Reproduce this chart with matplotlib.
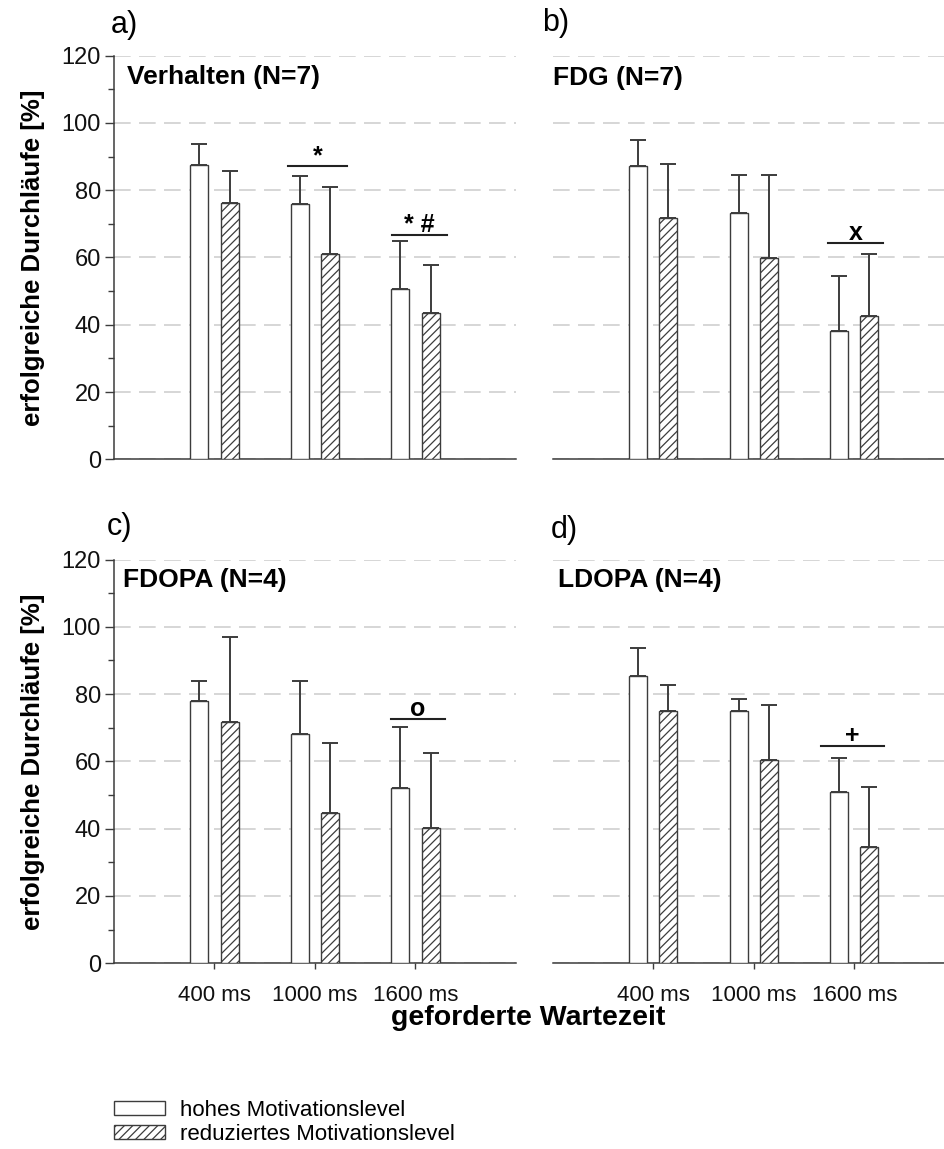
import matplotlib
matplotlib.use("Agg")
import matplotlib.pyplot as plt
import numpy as np

plt.rcParams['font.family'] = ['Liberation Sans', 'DejaVu Sans']
plt.rcParams['hatch.linewidth'] = 0.9
plt.rcParams['hatch.color'] = '#3a3a3a'

# ---------------- data ----------------
categories = ["400 ms", "1000 ms", "1600 ms"]
panel_letters = ["a)", "b)", "c)", "d)"]
panel_titles = ["Verhalten (N=7)", "FDG (N=7)", "FDOPA (N=4)", "LDOPA (N=4)"]

high_mean = [
    [87.6, 76.0, 50.7],
    [87.1, 73.3, 38.1],
    [77.9, 68.1, 52.0],
    [85.5, 75.1, 50.9],
]
high_err = [
    [6.1, 8.1, 14.1],
    [7.9, 11.3, 16.4],
    [6.0, 15.7, 18.3],
    [8.3, 3.5, 10.1],
]
low_mean = [
    [76.3, 61.0, 43.6],
    [71.8, 59.8, 42.5],
    [71.7, 44.6, 40.1],
    [74.9, 60.3, 34.4],
]
low_err = [
    [9.5, 20.0, 14.1],
    [16.0, 24.7, 18.6],
    [25.3, 21.0, 22.5],
    [7.9, 16.5, 17.9],
]
# significance markers: (label, line level, x start, x end)
sig_labels = [["*", "* #"], ["x"], ["o"], ["+"]]
sig_levels = [[87.1, 66.8], [64.3], [72.7], [64.6]]
sig_x0 = [[1.73, 2.77], [2.74], [2.76], [2.67]]
sig_x1 = [[2.32, 3.31], [3.29], [3.29], [3.30]]

legend_labels = ["hohes Motivationslevel", "reduziertes Motivationslevel"]
y_label = "erfolgreiche Durchläufe [%]"
x_label = "geforderte Wartezeit"

# ---------------- figure ----------------
W, H = 945, 1149
fig = plt.figure(figsize=(W / 100, H / 100), dpi=100)

def fx(px):
    return px / W

def fy(py):
    return 1 - py / H

ax_left = [114, 552.7]
ax_right = [516, 945]
ax_top = [55.7, 559.5]
ax_bot = [459.3, 963.2]
group_px = 100.5
title_px = [(127, 77), (553, 78), (123, 580), (558, 580)]
letter_px = [(111, 33), (541.7, 31), (107, 535), (550.7, 538)]

spine_col = '#3c3c3c'
edge_col = '#3c3c3c'
grid_col = '#cfcfcf'

axes = []
for i in range(4):
    r, c = divmod(i, 2)
    l, rt = ax_left[c], ax_right[c]
    t, b = ax_top[r], ax_bot[r]
    ax = fig.add_axes([fx(l), fy(b), (rt - l) / W, (b - t) / H])
    axes.append(ax)
    x = np.arange(1, len(categories) + 1)
    bw = 0.18
    off = 0.15
    ekw = dict(ecolor=edge_col, elinewidth=1.4, capsize=5.5, capthick=1.4, zorder=4)
    b1 = ax.bar(x - off, high_mean[i], bw, facecolor='white', edgecolor=edge_col,
                linewidth=1.0, zorder=3,
                yerr=[np.zeros(3), high_err[i]], error_kw=ekw)
    b2 = ax.bar(x + off, low_mean[i], bw, facecolor='white', edgecolor=edge_col,
                linewidth=1.0, hatch='////', zorder=3,
                yerr=[np.zeros(3), low_err[i]], error_kw=ekw)
    if i == 0:
        legend_handles = [b1, b2]
    ax.set_xlim(0, (rt - l) / group_px)
    ax.set_ylim(0, 120)
    ax.set_yticks(np.arange(0, 121, 20))
    ax.set_yticks(np.arange(10, 120, 20), minor=True)
    ax.yaxis.grid(True, which='major', color=grid_col, linestyle=(0, (10, 5)), linewidth=1.2, zorder=0)
    ax.set_axisbelow(True)
    for s in ['top', 'right']:
        ax.spines[s].set_visible(False)
    ax.spines['bottom'].set_color(spine_col)
    ax.spines['bottom'].set_linewidth(1.1)
    ax.spines['left'].set_color(spine_col)
    ax.spines['left'].set_linewidth(1.1)
    if c == 0:
        ax.tick_params(axis='y', which='major', length=6.5, width=1.0, color=spine_col,
                       labelsize=17, pad=3, labelcolor='#111111')
        ax.tick_params(axis='y', which='minor', length=4.5, width=1.0, color=spine_col)
        ax.set_ylabel(y_label, fontsize=18.5, fontweight='bold', labelpad=12)
    else:
        ax.spines['left'].set_visible(False)
        ax.tick_params(axis='y', which='both', left=False, labelleft=False)
    ax.set_xticks(x)
    if r == 1:
        ax.set_xticklabels(categories, fontsize=16, color='#111111')
        ax.tick_params(axis='x', length=4.5, width=1.0, color=spine_col, pad=11)
    else:
        ax.tick_params(axis='x', bottom=False, labelbottom=False)
    for lab, lev, x0, x1 in zip(sig_labels[i], sig_levels[i], sig_x0[i], sig_x1[i]):
        ax.plot([x0, x1], [lev, lev], color='#222222', linewidth=1.5, zorder=5)
        ax.text((x0 + x1) / 2, lev - 0.6, lab, fontsize=18, fontweight='bold',
                ha='center', va='bottom', zorder=5)
    fig.text(fx(title_px[i][0]), fy(title_px[i][1]), panel_titles[i], fontsize=19,
             fontweight='bold', va='center', ha='left')
    fig.text(fx(letter_px[i][0]), fy(letter_px[i][1]), panel_letters[i], fontsize=22,
             va='baseline', ha='left')

fig.text(fx(528), fy(1018), x_label, fontsize=20.5, fontweight='bold', ha='center', va='center')

fig.legend(legend_handles, legend_labels, loc='upper left', bbox_to_anchor=(fx(114), fy(1100)),
           frameon=False, fontsize=16, handlelength=2.3, handleheight=0.62,
           handletextpad=0.65, labelspacing=0.12, borderaxespad=0, borderpad=0)

fig.savefig("out.png", dpi=100)
